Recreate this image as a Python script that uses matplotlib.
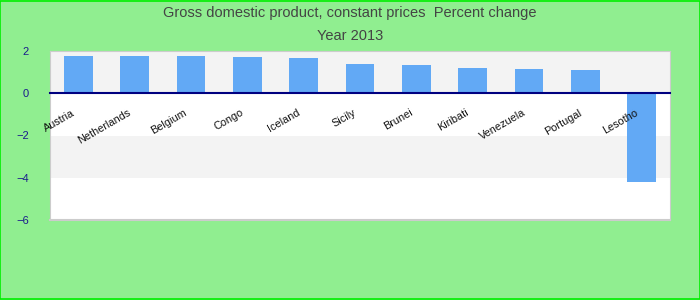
"""
GDP constant prices, percent change, year 2013 - bar chart
"""

from matplotlib import pyplot as plt
from matplotlib.transforms import ScaledTranslation
import numpy as np

###############################################################################
countries = ['Austria', 'Netherlands', 'Belgium', 'Congo', 'Iceland', 'Sicily',
             'Brunei', 'Kiribati', 'Venezuela', 'Portugal', 'Lesotho']
values = [1.76, 1.76, 1.76, 1.71, 1.67, 1.38, 1.34, 1.19, 1.15, 1.10, -4.19]
yticks = [-6, -4, -2, 0, 2]

###############################################################################
plt.rcParams['font.family'] = ['Liberation Sans', 'DejaVu Sans']

fig = plt.figure(figsize=(7, 3), dpi=100, facecolor='#90ee90')
# bright green border around the whole image
fig.patches.append(plt.Rectangle((0.0007, 0.0017), 0.9986, 0.9966,
                                 transform=fig.transFigure, fill=False,
                                 edgecolor='#00ee00', linewidth=1.2))

ax = fig.add_axes([50 / 700, 80 / 300, 620 / 700, 169 / 300])
ax.set_facecolor('white')
ax.set_axisbelow(False)

# alternating horizontal bands
for lo, hi in zip(yticks[:-1], yticks[1:]):
    if lo in (-4, 0):
        ax.axhspan(lo, hi, color='#f3f3f3', zorder=0, lw=0)

x = np.arange(len(countries))
ax.bar(x, values, width=0.51, color='#62a9f5', zorder=2)

ax.set_xlim(-0.5, len(countries) - 0.5)
ax.set_ylim(-6, 2)
ax.set_yticks(yticks)
ax.tick_params(axis='y', length=0, pad=15, labelsize=8, labelcolor='#1a1a8c')

# category labels hang from the zero line
ax.spines['bottom'].set_position(('data', 0))
ax.spines['bottom'].set_color('#000080')
ax.spines['bottom'].set_linewidth(1.5)
ax.set_xticks(x)
ax.set_xticklabels(countries, rotation=30, ha='right',
                   rotation_mode='anchor', fontsize=7.8, color='#111111')
ax.tick_params(axis='x', length=0, pad=6)
shift = ScaledTranslation(-7 / 100, -6 / 100, fig.dpi_scale_trans)
for lab in ax.get_xticklabels():
    lab.set_transform(lab.get_transform() + shift)

for side in ['top', 'left', 'right']:
    ax.spines[side].set_color('#cccccc')
# lower frame edge
ax.axhline(-6, color='#cccccc', linewidth=1.5, clip_on=False, zorder=3)

fig.text(0.5, 1 - 13 / 300, 'Gross domestic product, constant prices  Percent change',
         ha='center', va='center', fontsize=10.5, color='#444444')
fig.text(0.5, 1 - 36 / 300, 'Year 2013', ha='center', va='center',
         fontsize=10.5, color='#444444')

plt.savefig('out.png', dpi=100, facecolor=fig.get_facecolor())
